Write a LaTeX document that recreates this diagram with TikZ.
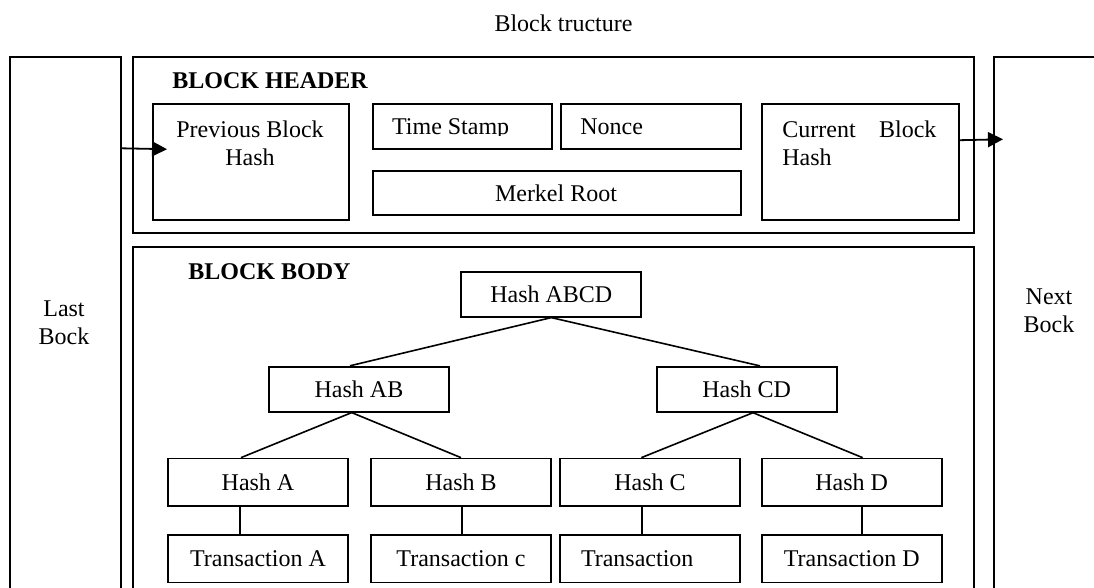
\documentclass[tikz,border=0pt]{standalone}
\usepackage{fontspec}
\setmainfont{Liberation Serif}
\usetikzlibrary{arrows.meta}
\tikzset{
  frame/.style={line width=0.8pt},
  hashbox/.style={draw,line width=0.9pt,inner sep=0pt,minimum width=90pt,minimum height=22.5pt},
  leafbox/.style={hashbox,minimum height=23.75pt},
  link/.style={line width=0.8pt},
  arr/.style={line width=0.9pt,-{Triangle[length=7.5pt,width=7.5pt]}},
  caption/.style={anchor=base west,inner sep=0pt,font=\fontsize{12pt}{14pt}\selectfont\bfseries}
}
\begin{document}
\begin{tikzpicture}[x=0.5pt,y=-0.5pt,font=\fontsize{12pt}{14pt}\selectfont]
  \useasboundingbox (0,0) rectangle (1094,588);
  \node[anchor=base] (title) at (563.5,31.7) {Block tructure};
  % neighbour blocks (open at the bottom)
  \draw[line width=0.6pt] (10,588) -- (10,57) -- (121,57) -- (121,588);
  \draw[frame] (994,588) -- (994,57) -- (1094,57);
  \node[align=center] (last) at (64,323) {Last\\Bock};
  \node[align=center] (next) at (1049,311) {Next\\Bock};
  % header
  \draw[frame] (133,57) rectangle (974,233);
  \node[caption] (hdr) at (172,89) {BLOCK HEADER};
  \node[hashbox,minimum width=98pt,minimum height=58pt,anchor=north west] (prev) at (152,103.3) {};
  \node[anchor=north,align=center,inner sep=0pt] (prevtxt) at (250,120) {Previous Block\\Hash};
  \node[hashbox,minimum width=89.65pt,anchor=north west] (time) at (371.7,103.3) {};
  \begin{scope}
    \clip (371.7,103.3) rectangle (551,135.5);
    \node[anchor=base west,inner sep=0pt] (timetxt) at (391.7,135) {Time Stamp};
  \end{scope}
  \node[hashbox,anchor=north west] (nonce) at (560,103.3) {};
  \node[anchor=base west,inner sep=0pt] (noncetxt) at (580,135) {Nonce};
  \node[hashbox,minimum width=184.15pt,minimum height=22pt,anchor=north west] (merkle) at (371.7,170) {};
  \node[anchor=base,inner sep=0pt] (merkletxt) at (556,201.7) {Merkel Root};
  \node[hashbox,minimum width=98.5pt,minimum height=58pt,anchor=north west] (cur) at (761,103.3) {};
  \node[anchor=north west,align=left,inner sep=0pt] (curtxt) at (782,120) {\makebox[77pt][s]{Current Block}\\Hash};
  % chain
  \coordinate (lastedge) at (121,148.3);
  \coordinate (nexttip) at (1003,139.3);
  \draw[arr] (lastedge) -- ([xshift=7.5pt,yshift=6.5pt]prev.west);
  \draw[arr] ([yshift=11pt]cur.east) -- (nexttip);
  % body
  \draw[frame] (133,588) -- (133,247) -- (974,247) -- (974,588);
  \node[caption] (body) at (188,280) {BLOCK BODY};
  \node[hashbox] (abcd) at (551.3,294.2) {Hash ABCD};
  \node[hashbox] (ab) at (359,389.2) {Hash AB};
  \node[hashbox] (cd) at (746.7,389.3) {Hash CD};
  \node[leafbox] (ha) at (258,482.3) {Hash A};
  \node[leafbox] (hb) at (461,482.3) {Hash B};
  \node[leafbox] (hc) at (650,482.3) {Hash C};
  \node[leafbox] (hd) at (851.7,482.3) {Hash D};
  \node[leafbox] (ta) at (258,558.7) {Transaction A};
  \node[leafbox] (tb) at (461,558.7) {Transaction c};
  \node[leafbox,inner xsep=10.5pt,text width=69pt,align=left] (tc) at (650,558.7) {Transaction};
  \node[leafbox] (td) at (851.7,558.7) {Transaction D};
  % tree
  \draw[link] (abcd.south) -- ([xshift=-4.5pt]ab.north);
  \draw[link] (abcd.south) -- ([xshift=6.65pt]cd.north);
  \draw[link] ([xshift=-3.65pt]ab.south) -- ([xshift=-8.5pt]ha.north);
  \draw[link] ([xshift=-3.65pt]ab.south) -- (hb.north);
  \draw[link] ([xshift=3.15pt]cd.south) -- ([xshift=-4.3pt]hc.north);
  \draw[link] ([xshift=3.15pt]cd.south) -- ([xshift=5.45pt]hd.north);
  \draw[link] ([xshift=-9pt]ha.south) -- ([xshift=-9pt]ta.north);
  \draw[link] ([xshift=0.4pt]hb.south) -- ([xshift=0.4pt]tb.north);
  \draw[link] ([xshift=-4pt]hc.south) -- ([xshift=-4pt]tc.north);
  \draw[link] ([xshift=5.25pt]hd.south) -- ([xshift=5.25pt]td.north);
\end{tikzpicture}
\end{document}
